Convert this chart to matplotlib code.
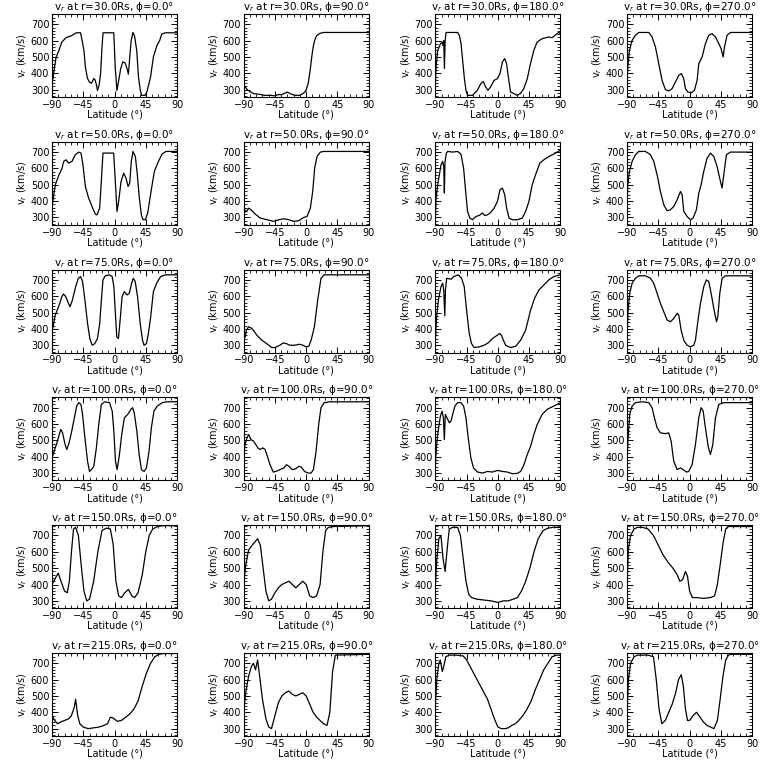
import matplotlib
matplotlib.use("Agg")
import matplotlib.pyplot as plt
from matplotlib.ticker import MultipleLocator

radii = [30.0, 50.0, 75.0, 100.0, 150.0, 215.0]
phis = [0.0, 90.0, 180.0, 270.0]

# ---- r = 30 Rs -------------------------------------------------------
lat_30_0 = [-90, -87, -84, -80, -76, -70, -62, -55, -49, -47, -44, -42, -39, -36, -33, -30, -28, -26,
            -24.5, -22, -20, -18, -16.5, -1, 1, 3.5, 6, 9, 12, 15, 18, 20, 22, 24, 26.5, 29, 32, 34.5,
            37, 39, 44, 47, 52, 56, 61, 65, 68, 73, 90]
v_30_0 = [330, 420, 500, 540, 590, 618, 630, 648, 648, 610, 540, 440, 370, 345, 340, 368, 360, 330,
          295, 330, 400, 560, 648, 648, 440, 295, 355, 430, 470, 465, 430, 395, 500, 600, 650, 625, 540, 380,
          300, 265, 265, 290, 380, 500, 570, 600, 640, 648, 648]

lat_30_90 = [-90, -85, -80, -75, -68, -60, -50, -45, -40, -35, -30, -27, -24, -20, -15, -10, -5, -2,
             0, 3, 6, 8, 10, 12, 15, 20, 25, 90]
v_30_90 = [330, 300, 285, 275, 272, 265, 265, 262, 270, 270, 280, 285, 278, 270, 265, 265, 275, 285,
           300, 340, 430, 500, 560, 600, 630, 645, 650, 650]

lat_30_180 = [-90, -89, -86.7, -82.8, -80.4, -79, -78, -77, -76, -74.7, -58, -55.6, -53, -50.8, -48.5,
              -46, -43.7, -36.7, -29.5, -24.6, -21, -17.6, -14.3, -10.6, -5.5, -0.7, 3, 6.5, 9.8, 12.5,
              15, 18.2, 23, 27.7, 32.5, 37.3, 42.3, 46.9, 51.8, 56.6, 63.7, 73, 78, 82.6, 87.5, 90]
v_30_180 = [335, 440, 540, 580, 592, 570, 600, 430, 600, 650, 650, 633, 580, 480, 378,
            296, 265, 265, 296, 337, 350, 316, 296, 316, 357, 367, 398, 469, 490, 459,
            378, 286, 276, 265, 276, 306, 367, 459, 541, 592, 612, 622, 618, 633, 650, 643]

lat_30_270 = [-90, -89, -86.6, -82.8, -78, -73.2, -58.8, -54, -49.2, -44.4, -39.6, -34.8, -30, -25.2,
              -20.4, -15.6, -11.8, -8.4, -6, -2.6, 2.2, 7, 10.8, 13.2, 18, 22.8, 27.6, 32.4, 37.2, 42,
              45.4, 48.3, 50.2, 54, 58.8, 90]
v_30_270 = [350, 440, 541, 602, 633, 650, 650, 622, 561, 459, 357, 300, 292, 306,
            347, 388, 398, 367, 306, 286, 280, 296, 357, 459, 500, 582, 633, 643, 622, 582,
            551, 500, 561, 633, 650, 650]

# ---- r = 50 Rs -------------------------------------------------------
lat_50_0 = [-90, -85.2, -80, -75.6, -73.2, -69.8, -66, -61.2, -56.4, -51.6, -48.2, -45.4, -42, -37.2,
            -32.4, -27.6, -25.2, -21.4, -19, -16.6, -1.2, 1.2, 3.6, 6, 9.4, 13.2, 16.6, 19.5, 21.9,
            24.2, 26.6, 30, 32.4, 35.8, 38.7, 41, 44.4, 47.8, 52.6, 57.4, 62.2, 68.4, 74.2, 90]
v_50_0 = [367, 500, 560, 600, 643, 653, 633, 643, 684, 700, 694, 622, 490, 418,
          367, 320, 316, 357, 520, 694, 694, 520, 337, 398, 520, 571, 541, 490, 510,
          643, 704, 673, 582, 418, 316, 286, 286, 327, 459, 582, 633, 688, 704, 704]

lat_50_90 = [-90, -86.6, -82.8, -78, -73.2, -66, -56.4, -46.8, -39.6, -32.4, -25.2, -18, -10.8, -3.6,
             1.2, 6, 9.4, 12.2, 15.6, 20.4, 25.2, 90]
v_50_90 = [357, 333, 357, 341, 320, 296, 286, 276, 286, 292, 286, 276, 280, 300,
           306, 357, 459, 602, 673, 700, 704, 704]

lat_50_180 = [-90, -89, -86.7, -84.3, -81.9, -79.5, -78, -77.1, -76.2, -74.2, -72.3, -65.2, -58, -53.2,
              -49.4, -46, -43.7, -40.3, -36.5, -31.7, -27, -22.2, -18.8, -15, -10.3, -5.5, -0.7, 3,
              6.5, 9.8, 12.6, 16, 20.8, 28, 35, 39.9, 44.7, 49.4, 54.2, 60.4, 66.2, 73.4, 80.5, 90]
v_50_180 = [316, 418, 500, 561, 622, 643, 612, 450, 640, 694, 704, 700, 704, 688,
            602, 439, 337, 296, 286, 306, 312, 327, 312, 316, 331, 357, 398, 469,
            480, 439, 357, 296, 286, 286, 296, 337, 398, 500, 561, 633, 653, 673, 688, 712]

lat_50_270 = [-90, -89, -86.6, -82.8, -78, -73.2, -63.6, -56.4, -51.6, -46.8, -42, -37.2, -32.4, -27.6,
              -22.8, -18, -13.2, -10.8, -8.4, -3.6, 1.2, 5, 9.8, 13.2, 16.6, 20.4, 25.2, 30, 34.8,
              39.6, 44.4, 46.8, 49.2, 53, 58.8, 90]
v_50_270 = [378, 500, 582, 643, 684, 704, 704, 684, 643, 561, 459, 378, 341, 347,
            367, 408, 459, 439, 337, 306, 286, 296, 347, 449, 500, 582, 663, 694, 673,
            612, 520, 480, 561, 684, 700, 700]

# ---- r = 75 Rs -------------------------------------------------------
lat_75_0 = [-90, -85.3, -80.5, -75.8, -73.4, -70.1, -66.3, -64, -60.6, -55.9, -52.1, -48.8, -46, -42.6,
            -38.8, -35.5, -32.2, -28.4, -24.6, -21.3, -18.9, -16.6, -13.3, -7.1, -3.3, -0.9, 1, 3.3,
            5.7, 8.5, 10.9, 14.2, 18, 21.3, 24.6, 27, 29.8, 33.2, 37, 40.3, 42.6, 46, 48.8, 52.1,
            56, 60.6, 66.3, 73.4, 90]
v_75_0 = [382, 485, 536, 597, 614, 597, 556, 536, 577, 659, 710, 720, 690, 577,
          433, 341, 300, 310, 341, 433, 577, 700, 725, 731, 720, 659, 515, 351,
          341, 474, 597, 628, 608, 618, 679, 710, 690, 597, 433, 331, 300, 310, 372, 474,
          628, 679, 720, 731, 731]

lat_75_90 = [-90, -87.6, -86.2, -82.9, -78.2, -71.1, -64, -56.9, -49.7, -45, -37.9, -33.2, -28.4, -23.7,
             -16.6, -9.5, -4.7, 0, 3.8, 7.1, 11.8, 16.6, 21.3, 26, 90]
v_75_90 = [362, 351, 392, 413, 403, 362, 331, 310, 286, 286, 300, 314, 310, 300,
           300, 306, 300, 290, 294, 331, 413, 577, 710, 731, 731]

lat_75_180 = [-90, -88.6, -85.7, -81.9, -79.5, -78, -76.5, -75.5, -73.8, -67.6, -63.7, -57, -52.3, -48.5,
              -45.1, -41.3, -38, -34.1, -27, -19.8, -14.1, -7.9, -0.7, 2.6, 5, 7.9, 11.2, 18.4, 25.6,
              32.7, 39.9, 47.1, 52.8, 59, 66.2, 73.3, 80.5, 90]
v_75_180 = [331, 454, 577, 659, 679, 638, 480, 640, 710, 704, 720, 731, 710, 659,
            515, 372, 310, 286, 290, 300, 314, 341, 362, 372, 362, 331, 300, 286, 294,
            331, 392, 515, 587, 638, 669, 700, 720, 731]

lat_75_270 = [-90, -88.6, -86.2, -82.8, -78, -73.2, -63.6, -56.4, -51.6, -46.8, -42, -37.2, -32.4, -27.6,
              -22.8, -18, -15.6, -12.2, -8.4, -3.6, 1.2, 6, 8.4, 11.8, 15.6, 20.4, 24.3, 27.6, 31,
              34.8, 38.7, 40.6, 43.5, 46.8, 51.6, 90]
v_75_270 = [351, 515, 618, 679, 710, 725, 725, 710, 679, 618, 556, 505, 454, 444,
            464, 495, 485, 392, 331, 300, 290, 300, 331, 444, 556, 659, 700, 690, 618,
            526, 444, 474, 618, 710, 725, 725]

# ---- r = 100 Rs ------------------------------------------------------
lat_100_0 = [-90, -86.2, -82.9, -79.6, -77.2, -74.8, -71.1, -68.7, -65.4, -61.6, -57.8, -54.5, -51.2,
             -48.3, -46, -42.6, -38.8, -36, -33.2, -29.8, -26.1, -22.7, -18.9, -14.2, -7.1, -3.3,
             -0.9, 1.4, 3.8, 7.1, 10.4, 14.2, 19, 23.7, 26, 28.4, 32.2, 35.5, 38.8, 42.6, 46, 49.7,
             53.1, 56.8, 61.6, 68.7, 75.8, 90]
v_100_0 = [392, 444, 485, 536, 567, 546, 474, 444, 485, 556, 638, 710, 731,
           720, 659, 515, 372, 310, 321, 341, 454, 597, 720, 736, 731, 679,
           556, 372, 321, 413, 536, 638, 659, 690, 700, 669, 556, 413, 321, 310, 331, 433,
           577, 679, 710, 731, 736, 736]

lat_100_90 = [-90, -88.1, -85.3, -82.9, -79.6, -75.8, -72.5, -69.6, -66.3, -62.5, -59.2, -55.9, -52.1,
              -47.4, -43.6, -37.9, -32.2, -28.4, -24.6, -19.9, -15.2, -10.4, -7.1, -2.4, 2.4, 7.1,
              10.4, 14.2, 18, 21.3, 26, 33.2, 90]
v_100_90 = [382, 474, 515, 536, 505, 495, 474, 454, 444, 454, 444, 403, 351,
            306, 310, 321, 331, 351, 341, 321, 326, 341, 337, 310, 300, 300,
            321, 433, 597, 700, 731, 736, 736]

lat_100_180 = [-90, -88.6, -86.7, -82.8, -80.4, -78.5, -77.1, -75.7, -73.3, -69.9, -67.6, -65.2, -61.8,
               -58, -53.3, -49.4, -46, -42.7, -38.9, -35.1, -29.3, -22.2, -15, -7.9, -0.7, 6.5, 13.7,
               20.8, 28, 32.7, 37.5, 42.3, 47.1, 51.8, 56.6, 63.7, 70.9, 80.5, 90]
v_100_180 = [351, 454, 536, 649, 679, 638, 505, 659, 638, 608, 618, 659, 710,
             731, 731, 710, 638, 515, 392, 331, 306, 300, 310, 306, 316, 310, 306,
             296, 298, 310, 351, 413, 464, 536, 597, 659, 690, 710, 731]

lat_100_270 = [-90, -88.6, -86.2, -82.8, -78, -68.4, -58.8, -54, -50.6, -46.8, -42, -34.8, -30, -26.6,
               -22.8, -18, -13.2, -9.3, -4.6, -1.2, 3.6, 8.4, 13.2, 16.6, 19.5, 22.8, 26.7, 30, 33.4,
               37.2, 42, 49.2, 90]
v_100_270 = [382, 515, 659, 710, 731, 736, 731, 700, 638, 577, 546, 541, 546, 495,
             372, 321, 331, 321, 306, 310, 351, 474, 638, 700, 679, 577, 464, 413, 474,
             638, 720, 731, 731]

# ---- r = 150 Rs ------------------------------------------------------
lat_150_0 = [-90, -85, -81, -77, -72, -68, -65, -62, -59, -56, -52, -48, -44, -40, -36, -30, -24, -18,
             -12, -6, -2, 2, 6, 10, 15, 20, 25, 29, 34, 40, 45, 50, 55, 62, 70, 90]
v_150_0 = [400, 440, 470, 420, 360, 350, 420, 600, 740, 750, 700, 520, 360, 300, 310, 420, 600, 730,
           745, 740, 650, 420, 330, 320, 350, 370, 330, 320, 350, 460, 600, 700, 740, 755, 760, 760]

lat_150_90 = [-90, -87, -83, -78, -74, -70, -66, -62, -58, -54, -50, -45, -40, -35, -30, -25, -20, -15,
              -10, -5, 0, 5, 10, 15, 20, 24, 28, 32, 40, 90]
v_150_90 = [400, 520, 610, 640, 660, 680, 640, 500, 360, 300, 310, 350, 380, 400, 410, 420, 400, 380,
            400, 420, 400, 330, 320, 330, 400, 600, 730, 750, 755, 760]

lat_150_180 = [-90, -88, -85, -82, -79, -76, -73, -70, -65, -58, -54, -50, -46, -42, -38, -30, -20, -10,
               0, 8, 15, 22, 28, 34, 40, 46, 52, 58, 65, 72, 80, 90]
v_150_180 = [400, 550, 680, 700, 560, 480, 620, 740, 750, 750, 700, 560, 420, 340, 320, 310, 305, 300,
             290, 300, 300, 310, 320, 360, 420, 500, 600, 680, 730, 745, 750, 750]

lat_150_270 = [-90, -88, -85, -80, -75, -68, -60, -52, -45, -38, -30, -24, -18, -14, -10, -6, -3, 0,
               4, 10, 20, 30, 36, 40, 44, 48, 52, 56, 90]
v_150_270 = [420, 620, 700, 740, 750, 750, 740, 700, 640, 580, 530, 500, 460, 420, 430, 480, 450, 360,
             320, 320, 315, 320, 330, 400, 520, 650, 740, 755, 755]

# ---- r = 215 Rs ------------------------------------------------------
lat_215_0 = [-90, -86, -82, -78, -72, -66, -62, -58, -56, -53, -50, -45, -38, -30, -22, -15, -10, -6,
             -2, 4, 10, 16, 22, 28, 34, 40, 46, 52, 58, 64, 70, 90]
v_215_0 = [380, 350, 330, 340, 350, 360, 380, 430, 480, 380, 330, 310, 300, 305, 310, 320, 330, 370,
           365, 345, 350, 370, 390, 420, 470, 560, 640, 700, 740, 755, 760, 760]

lat_215_90 = [-90, -87, -83, -79, -76, -73, -70, -67, -63, -58, -54, -50, -45, -40, -35, -30, -25, -20,
              -15, -10, -5, 0, 5, 10, 15, 20, 25, 30, 34, 38, 42, 90]
v_215_90 = [400, 520, 620, 680, 700, 660, 720, 620, 480, 360, 310, 300, 380, 460, 500, 520, 530, 510,
            500, 510, 520, 500, 450, 400, 370, 350, 330, 320, 400, 650, 750, 755]

lat_215_180 = [-90, -88, -85, -83, -80, -78, -75, -70, -60, -50, -45, -40, -35, -30, -25, -20, -15, -10,
               -5, 0, 5, 10, 15, 20, 25, 30, 36, 42, 48, 54, 60, 66, 72, 78, 84, 90]
v_215_180 = [450, 600, 700, 720, 650, 680, 740, 750, 750, 745, 720, 680, 640, 600, 560, 520, 480, 420,
             360, 310, 300, 300, 305, 320, 330, 350, 380, 420, 470, 540, 600, 660, 700, 740, 750, 750]

lat_215_270 = [-90, -88, -85, -80, -75, -68, -60, -52, -48, -44, -40, -35, -30, -25, -20, -16, -12, -9,
               -6, -3, 0, 5, 10, 15, 20, 25, 30, 35, 40, 44, 48, 52, 56, 60, 90]
v_215_270 = [420, 600, 700, 740, 750, 750, 750, 740, 600, 420, 330, 350, 400, 450, 520, 600, 630, 560,
             420, 350, 350, 380, 400, 370, 340, 320, 310, 300, 350, 480, 620, 720, 750, 755, 755]

series = {
    (30.0, 0.0): (lat_30_0, v_30_0), (30.0, 90.0): (lat_30_90, v_30_90),
    (30.0, 180.0): (lat_30_180, v_30_180), (30.0, 270.0): (lat_30_270, v_30_270),
    (50.0, 0.0): (lat_50_0, v_50_0), (50.0, 90.0): (lat_50_90, v_50_90),
    (50.0, 180.0): (lat_50_180, v_50_180), (50.0, 270.0): (lat_50_270, v_50_270),
    (75.0, 0.0): (lat_75_0, v_75_0), (75.0, 90.0): (lat_75_90, v_75_90),
    (75.0, 180.0): (lat_75_180, v_75_180), (75.0, 270.0): (lat_75_270, v_75_270),
    (100.0, 0.0): (lat_100_0, v_100_0), (100.0, 90.0): (lat_100_90, v_100_90),
    (100.0, 180.0): (lat_100_180, v_100_180), (100.0, 270.0): (lat_100_270, v_100_270),
    (150.0, 0.0): (lat_150_0, v_150_0), (150.0, 90.0): (lat_150_90, v_150_90),
    (150.0, 180.0): (lat_150_180, v_150_180), (150.0, 270.0): (lat_150_270, v_150_270),
    (215.0, 0.0): (lat_215_0, v_215_0), (215.0, 90.0): (lat_215_90, v_215_90),
    (215.0, 180.0): (lat_215_180, v_215_180), (215.0, 270.0): (lat_215_270, v_215_270),
}

# --------------------------------------------------------------------
W = 768.0
fig = plt.figure(figsize=(7.68, 7.68), dpi=100, facecolor="white")
plt.rcParams['font.family'] = ['DejaVu Sans']

for i, r in enumerate(radii):
    for j, ph in enumerate(phis):
        left = 52 + j * 191.7
        top = 14 + i * 127.8
        ax = fig.add_axes([left / W, 1 - (top + 83) / W, 125 / W, 83 / W])
        lat, v = series[(r, ph)]
        ax.plot(lat, v, color="black", lw=0.9)
        ax.set_xlim(-90, 90)
        ax.set_ylim(255, 763)
        ax.set_xticks([-90, -45, 0, 45, 90])
        ax.set_yticks([300, 400, 500, 600, 700])
        ax.xaxis.set_minor_locator(MultipleLocator(9))
        ax.yaxis.set_minor_locator(MultipleLocator(20))
        ax.tick_params(which="both", direction="in", top=True, right=True, labelsize=7, pad=2)
        ax.tick_params(which="major", length=4, width=0.7)
        ax.tick_params(which="minor", length=2, width=0.6)
        for s in ax.spines.values():
            s.set_linewidth(0.8)
        ax.set_title("v$_r$ at r=%.1fRs, ϕ=%.1f°" % (r, ph), fontsize=7.5, pad=2)
        ax.set_xlabel("Latitude (°)", fontsize=7, labelpad=0)
        ax.set_ylabel("v$_r$ (km/s)", fontsize=7, labelpad=1)

fig.savefig("out.png", dpi=100, facecolor="white")
